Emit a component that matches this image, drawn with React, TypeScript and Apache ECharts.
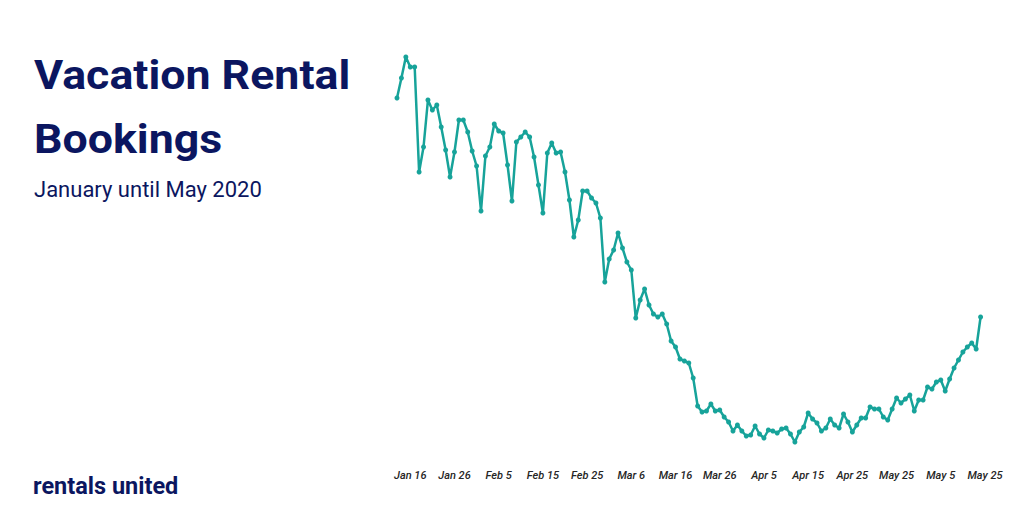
import React, { useEffect, useRef } from "react";
import * as echarts from "echarts";

// Daily bookings index (arbitrary units), Jan 13 2020 onward
const bookings = [
  362, 382, 403, 393, 393, 288, 313, 360, 350, 355,
  333, 310, 283, 308, 340, 340, 328, 309, 294, 249,
  304, 313, 336, 329, 327, 295, 259, 318, 323, 328,
  323, 303, 275, 247, 307, 317, 307, 308, 288, 260,
  223, 240, 269, 269, 262, 257, 242, 178, 201, 210,
  227, 212, 198, 190, 142, 160, 171, 155, 146, 143,
  146, 136, 119, 113, 101, 99, 97, 82, 54, 48,
  49, 56, 49, 50, 43, 38, 29, 35, 29, 24,
  25, 34, 26, 22, 30, 29, 27, 31, 32, 26,
  18, 28, 33, 47, 41, 37, 29, 32, 41, 35,
  32, 46, 38, 28, 35, 42, 42, 53, 51, 51,
  43, 40, 51, 62, 57, 61, 65, 49, 60, 60,
  73, 71, 78, 80, 69, 81, 92, 100, 108, 113,
  117, 111, 143,
];

// Tick labels as printed on the original chart (every 10th day from Jan 16)
const tickLabels = [
  "Jan 16", "Jan 26", "Feb 5", "Feb 15", "Feb 25", "Mar 6", "Mar 16",
  "Mar 26", "Apr 5", "Apr 15", "Apr 25", "May 25", "May 5", "May 25",
];
const firstTickIndex = 3;
const tickStep = 10;

const MONTHS = ["Jan", "Feb", "Mar", "Apr", "May", "Jun"];
const startDate = new Date(2020, 0, 13);
const dayCount = 134;
const categories: string[] = [];
for (let i = 0; i < dayCount; i++) {
  const d = new Date(startDate.getFullYear(), startDate.getMonth(), startDate.getDate() + i);
  categories.push(MONTHS[d.getMonth()] + " " + d.getDate());
}

const NAVY = "#0b1660";
const TEAL = "#17a39a";

export default function App() {
  const ref = useRef<HTMLDivElement>(null);
  useEffect(() => {
    if (!ref.current) return;
    const chart = echarts.init(ref.current, null, { renderer: "svg" });
    chart.setOption({
      animation: false,
      backgroundColor: "#ffffff",
      grid: { left: 397, width: 588, top: 40, height: 420 },
      xAxis: {
        type: "category",
        data: categories,
        boundaryGap: false,
        axisLine: { show: false },
        axisTick: { show: false },
        splitLine: { show: false },
        axisLabel: {
          interval: (index: number) =>
            index >= firstTickIndex && (index - firstTickIndex) % tickStep === 0,
          formatter: (_v: string, index: number) =>
            tickLabels[(index - firstTickIndex) / tickStep] ?? "",
          color: "#262626",
          fontSize: 11,
          fontWeight: 500,
          fontStyle: "italic",
          fontFamily: "Roboto",
          margin: 10,
          showMaxLabel: true,
        },
      },
      yAxis: {
        type: "value",
        min: 0,
        max: 420,
        show: false,
        splitLine: { show: false },
      },
      series: [
        {
          type: "line",
          data: bookings,
          symbol: "circle",
          symbolSize: 5,
          showSymbol: true,
          showAllSymbol: true,
          lineStyle: { color: TEAL, width: 2.5 },
          itemStyle: { color: TEAL },
        },
      ],
      graphic: [
        {
          type: "text",
          x: 34,
          y: 75,
          scaleX: 1.09,
          style: {
            text: "Vacation Rental",
            fontFamily: "Roboto",
            fontWeight: "bold",
            fontSize: 41,
            fill: NAVY,
            verticalAlign: "middle",
          },
        },
        {
          type: "text",
          x: 34,
          y: 139,
          scaleX: 1.09,
          style: {
            text: "Bookings",
            fontFamily: "Roboto",
            fontWeight: "bold",
            fontSize: 41,
            fill: NAVY,
            verticalAlign: "middle",
          },
        },
        {
          type: "text",
          x: 34,
          y: 189,
          style: {
            text: "January until May 2020",
            fontFamily: "Roboto",
            fontSize: 22,
            fill: NAVY,
            verticalAlign: "middle",
          },
        },
        {
          type: "text",
          x: 33,
          y: 486,
          style: {
            text: "rentals united",
            fontFamily: "Roboto",
            fontWeight: "bold",
            fontSize: 23.5,
            fill: NAVY,
            verticalAlign: "middle",
          },
        },
      ],
    });
    return () => chart.dispose();
  }, []);
  return (
    <div
      ref={ref}
      style={{ position: "absolute", left: 0, top: 0, width: 1024, height: 512 }}
    />
  );
}
